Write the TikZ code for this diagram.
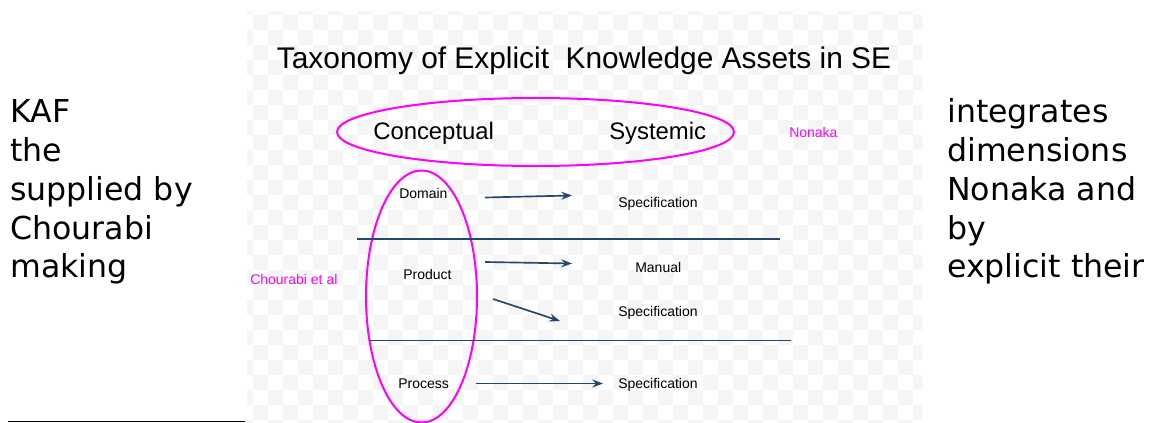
\documentclass[tikz,border=0pt]{standalone}
\usepackage{fontspec}
\setmainfont{Liberation Sans}
\newfontfamily\sidefont{DejaVu Sans}
\usetikzlibrary{shapes.geometric,arrows.meta}
\definecolor{checker}{HTML}{F5F5F5}
\definecolor{mag}{HTML}{FF00FF}
\definecolor{navy}{HTML}{23476E}
\tikzset{
  side/.style={anchor=base west,inner sep=0pt,font=\sidefont\fontsize{23.7}{29}\selectfont},
  title/.style={anchor=base,inner sep=0pt,font=\fontsize{22.4}{26}\selectfont},
  big/.style={anchor=base west,inner sep=0pt,font=\fontsize{17.9}{21}\selectfont},
  small/.style={anchor=base west,inner sep=0pt,font=\fontsize{10.5}{12}\selectfont},
  magsmall/.style={small,text=mag},
  ring/.style={draw=mag,line width=1.5pt,ellipse,inner sep=0pt},
  sep/.style={draw=navy,line width=1.25pt},
  arr/.style={draw=navy,line width=1.25pt,-{Stealth[length=8pt,width=6pt]}}
}
\begin{document}
\begin{tikzpicture}[x=0.75pt,y=-0.75pt]
\useasboundingbox (0,0) rectangle (1151,423);
\fill[white] (0,0) rectangle (1151,423);
% slide background (checkered)
\begin{scope}
\clip (247,12) rectangle (922,423);
\foreach \i in {-1,...,44}{\foreach \j in {0,...,28}{
  \pgfmathtruncatemacro\s{mod(\i+\j+2,2)}
  \ifnum\s=1 \fill[checker] ({253+15*\i},{15*\j}) rectangle ++(15,15); \fi
}}
\end{scope}
% side text
\node[side] (l1) at (10,122.7) {KAF};
\node[side] (l2) at (10,161.5) {the};
\node[side] (l3) at (10,200.3) {supplied by};
\node[side] (l4) at (10,239.1) {Chourabi};
\node[side] (l5) at (10,277.9) {making};
\node[side] (r1) at (947,122.7) {integrates};
\node[side] (r2) at (947,161.5) {dimensions};
\node[side] (r3) at (947,200.3) {Nonaka and};
\node[side] (r4) at (947,239.1) {by};
\node[side] (r5) at (947,277.9) {explicit their};
\coordinate (ul1) at (8,421.5);
\coordinate (ul2) at (245,421.5);
\draw[line width=0.9pt] (ul1) -- (ul2);
% title
\node[title] (t) at (584,69) {Taxonomy of Explicit~ Knowledge Assets in SE};
% ellipses
\node[ring,minimum width=297.75pt,minimum height=51pt] (hor) at (535.5,132) {};
\node[ring,minimum width=83.25pt,minimum height=189pt] (ver) at (421.5,296.5) {};
\node[big] (conc) at (373,140) {Conceptual};
\node[big] (sys) at (609,140) {Systemic};
\node[magsmall] (non) at (789,137.5) {Nonaka};
\node[magsmall] (cho) at (250,284.5) {Chourabi et al};
% rows
\node[small] (dom) at (399,199) {Domain};
\node[small] (prod) at (403,279.5) {Product};
\node[small] (proc) at (398,388.5) {Process};
\node[small] (s1) at (618,207.5) {Specification};
\node[small] (man) at (635,272.5) {Manual};
\node[small] (s2) at (618,316.5) {Specification};
\node[small] (s3) at (618,388.5) {Specification};
% separators
\coordinate (a1) at (357,239); \coordinate (b1) at (780,239);
\coordinate (a2) at (369,340.5); \coordinate (b2) at (791,340.5);
\draw[sep] (a1) -- (b1);
\draw[sep] (a2) -- (b2);
% arrows
\coordinate (d0) at (485,197.5); \coordinate (d1) at (572,195.5);
\coordinate (p0) at (485,262); \coordinate (p1) at (572,263.5);
\coordinate (q0) at (493,299); \coordinate (q1) at (560,321);
\coordinate (c0) at (476,383.5); \coordinate (c1) at (603,383.5);
\draw[arr] (d0) -- (d1);
\draw[arr] (p0) -- (p1);
\draw[arr] (q0) -- (q1);
\draw[arr] (c0) -- (c1);
\end{tikzpicture}
\end{document}
